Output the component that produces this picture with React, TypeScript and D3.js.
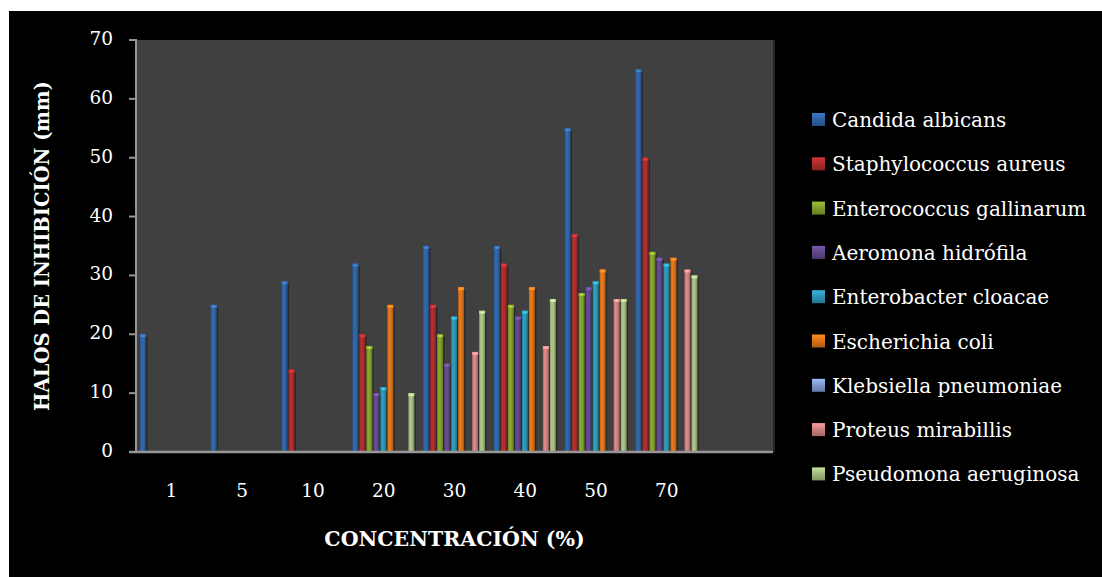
import React from 'react';
import * as d3 from 'd3';

// Concentration groups (the last slot is an empty spacer category)
const categories = ['1', '5', '10', '20', '30', '40', '50', '70', ''];

const seriesNames = [
  'Candida albicans',
  'Staphylococcus aureus',
  'Enterococcus gallinarum',
  'Aeromona hidrófila',
  'Enterobacter cloacae',
  'Escherichia coli',
  'Klebsiella pneumoniae',
  'Proteus mirabillis',
  'Pseudomona aeruginosa',
];

// Inhibition halos (mm) per concentration; null = no halo
const candidaAlbicans = [20, 25, 29, 32, 35, 35, 55, 65, null];
const staphylococcusAureus = [null, null, 14, 20, 25, 32, 37, 50, null];
const enterococcusGallinarum = [null, null, null, 18, 20, 25, 27, 34, null];
const aeromonaHidrofila = [null, null, null, 10, 15, 23, 28, 33, null];
const enterobacterCloacae = [null, null, null, 11, 23, 24, 29, 32, null];
const escherichiaColi = [null, null, null, 25, 28, 28, 31, 33, null];
const klebsiellaPneumoniae = [null, null, null, null, null, null, null, null, null];
const proteusMirabillis = [null, null, null, null, 17, 18, 26, 31, null];
const pseudomonaAeruginosa = [null, null, null, 10, 24, 26, 26, 30, null];

const seriesValues = [
  candidaAlbicans,
  staphylococcusAureus,
  enterococcusGallinarum,
  aeromonaHidrofila,
  enterobacterCloacae,
  escherichiaColi,
  klebsiellaPneumoniae,
  proteusMirabillis,
  pseudomonaAeruginosa,
];

const seriesColors = [
  '#2f62a3',
  '#ab2b2c',
  '#7f9c2c',
  '#604789',
  '#2b93b2',
  '#d8711a',
  '#7d98cb',
  '#cc7f7f',
  '#a1b97d',
];

const yTicks = [0, 10, 20, 30, 40, 50, 60, 70];

const FONT = '"Palatino Linotype", "Book Antiqua", Palatino, "DejaVu Serif", serif';

const W = 1102;
const H = 577;
const plot = { left: 136, right: 773, top: 40, bottom: 452 };

export default function App() {
  const x0 = d3
    .scaleBand<string>()
    .domain(categories.map((c, i) => `${i}`))
    .range([plot.left, plot.right])
    .paddingInner(0)
    .paddingOuter(0);

  const x1 = d3
    .scaleBand<string>()
    .domain(seriesNames)
    .range([3.5, 3.5 + 63])
    .paddingInner(0.15)
    .paddingOuter(0.075);

  const y = d3.scaleLinear().domain([0, 70]).range([plot.bottom, plot.top]);

  const legendX = 812;
  const legendY0 = 120;
  const legendStep = 44.3;

  return (
    <svg
      width={W}
      height={H}
      style={{ position: 'absolute', left: 0, top: 0, display: 'block' }}
    >
      <defs>
        {seriesColors.map((c, i) => {
          const base = d3.color(c)!;
          return (
            <linearGradient key={i} id={`bar-grad-${i}`} x1="0" x2="1" y1="0" y2="0">
              <stop offset="0%" stopColor={base.darker(0.5).formatHex()} />
              <stop offset="30%" stopColor={base.brighter(0.25).formatHex()} />
              <stop offset="65%" stopColor={base.formatHex()} />
              <stop offset="100%" stopColor={base.darker(0.9).formatHex()} />
            </linearGradient>
          );
        })}
        {seriesColors.map((c, i) => {
          const base = d3.color(c)!;
          return (
            <linearGradient key={`lg-${i}`} id={`leg-grad-${i}`} x1="0" x2="0" y1="0" y2="1">
              <stop offset="0%" stopColor={base.brighter(0.6).formatHex()} />
              <stop offset="50%" stopColor={base.formatHex()} />
              <stop offset="100%" stopColor={base.darker(0.6).formatHex()} />
            </linearGradient>
          );
        })}
      </defs>

      <rect x={0} y={0} width={W} height={H} fill="#ffffff" />
      <rect x={9} y={11} width={W - 9} height={H - 11} fill="#000000" />

      {/* plot area */}
      <rect
        x={plot.left}
        y={plot.top}
        width={plot.right - plot.left}
        height={plot.bottom - plot.top}
        fill="#404040"
      />
      <line x1={plot.right + 1} x2={plot.right + 1} y1={plot.top} y2={plot.bottom} stroke="#262626" strokeWidth={2} />

      {/* bars */}
      {seriesValues.map((vals, si) =>
        vals.map((v, ci) => {
          if (v == null) return null;
          const bx = (x0(`${ci}`) ?? 0) + (x1(seriesNames[si]) ?? 0);
          const bw = x1.bandwidth();
          const top = y(v);
          const base = d3.color(seriesColors[si])!;
          return (
            <g key={`${si}-${ci}`}>
              <rect x={bx + bw} y={top + 2} width={1.5} height={plot.bottom - top - 2} fill="#2a2a2a" />
              <rect x={bx} y={top} width={bw} height={plot.bottom - top} fill={`url(#bar-grad-${si})`} />
              <rect x={bx} y={top} width={bw} height={3} fill={base.brighter(0.5).formatHex()} />
              <rect x={bx + bw / 2 - 0.75} y={top + 1} width={1.5} height={1.5} fill={base.brighter(1.4).formatHex()} />
            </g>
          );
        })
      )}

      {/* y axis */}
      <line x1={plot.left} x2={plot.left} y1={plot.top - 1} y2={plot.bottom + 1} stroke="#969696" strokeWidth={2} />
      {yTicks.map((t) => (
        <g key={t}>
          <line x1={plot.left - 7} x2={plot.left} y1={y(t)} y2={y(t)} stroke="#969696" strokeWidth={2} />
          <text
            x={113}
            y={y(t) - 1.5}
            textAnchor="end"
            dominantBaseline="central"
            fill="#ffffff"
            fontFamily={FONT}
            fontSize={18.5}
          >
            {t}
          </text>
        </g>
      ))}

      {/* x axis */}
      <line x1={plot.left - 7} x2={plot.right} y1={plot.bottom} y2={plot.bottom} stroke="#969696" strokeWidth={2.5} />
      {categories.map((c, i) => (
        <text
          key={i}
          x={(x0(`${i}`) ?? 0) + x0.bandwidth() / 2}
          y={490}
          textAnchor="middle"
          dominantBaseline="central"
          fill="#ffffff"
          fontFamily={FONT}
          fontSize={18.5}
        >
          {c}
        </text>
      ))}

      {/* axis titles */}
      <text
        x={(plot.left + plot.right) / 2}
        y={546}
        textAnchor="middle"
        fill="#ffffff"
        fontFamily={FONT}
        fontWeight="bold"
        fontSize={20.5}
      >
        CONCENTRACIÓN (%)
      </text>
      <text
        transform={`translate(49, ${(plot.top + plot.bottom) / 2}) rotate(-90)`}
        textAnchor="middle"
        fill="#ffffff"
        fontFamily={FONT}
        fontWeight="bold"
        fontSize={19.5}
      >
        HALOS DE INHIBICIÓN (mm)
      </text>

      {/* legend */}
      {seriesNames.map((name, i) => {
        const cy = legendY0 + i * legendStep;
        return (
          <g key={name}>
            <rect x={legendX} y={cy - 7} width={13} height={13} fill={`url(#leg-grad-${i})`} />
            <text
              x={832}
              y={cy}
              dominantBaseline="central"
              fill="#ffffff"
              fontFamily={FONT}
              fontSize={20}
            >
              {name}
            </text>
          </g>
        );
      })}
    </svg>
  );
}
